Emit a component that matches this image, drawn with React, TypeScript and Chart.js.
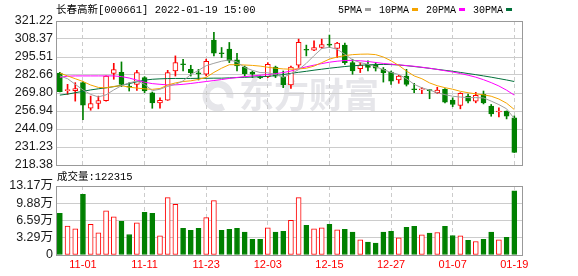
import React, { useEffect, useRef } from 'react';
import { Chart, registerables } from 'chart.js';

Chart.register(...registerables);

// ---------- data ----------
const dates = [
  '10-27', '10-28', '10-29',
  '11-01', '11-02', '11-03', '11-04', '11-05', '11-08', '11-09', '11-10', '11-11', '11-12',
  '11-15', '11-16', '11-17', '11-18', '11-19', '11-22', '11-23', '11-24', '11-25', '11-26',
  '11-29', '11-30', '12-01', '12-02', '12-03', '12-06', '12-07', '12-08', '12-09', '12-10',
  '12-13', '12-14', '12-15', '12-16', '12-17', '12-20', '12-21', '12-22', '12-23', '12-24',
  '12-27', '12-28', '12-29', '12-30', '12-31', '01-04', '01-05', '01-06', '01-07',
  '01-10', '01-11', '01-12', '01-13', '01-14', '01-17', '01-18', '01-19',
];
const tickDates = ['11-01', '11-11', '11-23', '12-03', '12-15', '12-27', '01-07', '01-19'];

const opens = [
  284.1, 271.5, 271.4, 277.2, 258.9, 262.3, 264.3, 283.7, 284.6, 274.6,
  276.0, 280.8, 270.0, 262.8, 264.7, 285.5, 290.6, 286.7, 284.0, 283.2,
  307.6, 298.5, 301.1, 293.4, 288.4, 284.8, 281.2, 281.5, 288.4, 281.2,
  275.5, 289.6, 301.0, 300.4, 302.3, 304.8, 301.6, 304.0, 291.5, 287.2,
  290.3, 289.6, 286.7, 284.8, 279.1, 281.9, 272.7, 272.0, 272.0, 270.0,
  272.4, 264.7, 260.9, 267.6, 264.0, 268.8, 260.4, 256.2, 256.8, 252.1,
];
const highs = [
  284.5, 276.0, 277.2, 278.0, 267.6, 267.6, 282.0, 291.0, 292.0, 277.2,
  286.0, 281.5, 270.5, 266.4, 286.0, 296.3, 293.9, 289.6, 286.7, 294.0,
  313.1, 302.3, 305.9, 298.2, 289.1, 285.5, 282.0, 291.5, 289.0, 285.5,
  289.0, 308.3, 304.0, 307.0, 308.3, 311.2, 306.0, 305.4, 293.9, 291.5,
  292.7, 291.5, 288.0, 285.5, 282.5, 286.7, 276.7, 273.7, 272.2, 273.9,
  273.0, 266.4, 270.0, 269.0, 270.3, 271.2, 261.6, 259.2, 257.0, 253.4,
];
const lows = [
  270.5, 268.8, 264.0, 250.8, 257.5, 258.5, 264.0, 279.6, 274.3, 271.2,
  271.7, 270.0, 258.9, 258.9, 264.5, 281.9, 285.5, 281.9, 279.1, 282.0,
  296.3, 295.1, 291.5, 285.5, 281.9, 280.8, 280.0, 280.8, 280.8, 273.6,
  273.0, 288.0, 296.3, 300.0, 301.6, 302.3, 295.1, 290.3, 283.2, 284.4,
  285.5, 285.5, 277.6, 276.0, 276.7, 274.8, 270.0, 269.4, 265.7, 269.5,
  262.8, 260.0, 258.5, 262.8, 262.8, 262.0, 253.2, 252.8, 251.3, 227.3,
];
const closes = [
  270.7, 272.0, 272.9, 261.1, 262.3, 264.3, 281.9, 286.5, 276.0, 274.0,
  284.4, 271.2, 262.8, 264.5, 284.4, 291.5, 290.0, 284.4, 283.5, 292.5,
  298.2, 297.8, 292.7, 289.1, 283.6, 283.2, 280.6, 290.3, 281.9, 275.7,
  288.4, 305.9, 300.3, 302.3, 304.3, 304.0, 305.4, 291.5, 285.5, 289.8,
  288.0, 287.5, 284.4, 278.3, 281.9, 276.0, 272.1, 272.5, 271.5, 271.9,
  263.3, 261.6, 269.5, 264.0, 268.1, 262.8, 254.9, 256.6, 253.2, 227.3,
];
const volumes = [
  79400, 55100, 50000, 115800, 58400, 42400, 84500, 73000, 64100, 39200,
  61600, 81300, 79400, 36700, 109400, 96700, 50700, 46900, 50700, 71200,
  103700, 46900, 48800, 50700, 43700, 29700, 29700, 52000, 43700, 45000,
  66000, 109400, 56500, 50000, 52000, 58400, 48200, 48800, 43700, 29000,
  24500, 22600, 43700, 45000, 32900, 52600, 54500, 38600, 41700, 43000,
  54500, 37300, 36700, 27800, 25800, 29700, 43700, 29000, 33500, 122315,
];
const ma5 = [
  282, 280, 276, 272, 268.8, 267, 268.5, 272, 275, 277,
  278.4, 276, 271.5, 272.5, 274.5, 276, 278.4, 283, 286, 289.3,
  291, 292.5, 293.4, 292, 288, 286, 284.4, 284.2, 283, 281,
  283.5, 286.5, 291, 296.5, 301.5, 302.5, 301, 297.5, 293.5, 291.5,
  290.3, 288.5, 286.5, 284.5, 283, 280, 276, 273.5, 271.9, 270,
  268.6, 267.5, 266.9, 266.5, 266.5, 266.3, 264, 261.5, 258.5, 251.5,
];
const ma10 = [
  284, 282, 280, 278, 275.5, 273.8, 273.5, 274.5, 275, 274,
  273.3, 272.8, 272.4, 273, 275.5, 277, 278, 278.5, 279.5, 281,
  284.5, 287.5, 290, 290, 289.8, 289.5, 289, 288.2, 287.5, 287,
  286.8, 287, 287.5, 289, 291.5, 294, 295.5, 296.5, 297.2, 297.5,
  297.6, 297.2, 295.5, 292.8, 289.5, 285.5, 282, 280, 277, 275,
  273.6, 272.5, 271, 270, 269.2, 268.5, 267.5, 265.5, 262.5, 258,
];
const ma20 = [
  281, 281.8, 282, 282, 282, 282, 282, 282, 281.5, 280.5,
  279, 277.5, 276.5, 276, 275.6, 275.6, 276, 276.6, 277.3, 278,
  278.7, 279.4, 280.2, 280.9, 281.5, 282, 282.5, 283, 283.6, 284.4,
  285.5, 287.2, 288.5, 289.7, 290.8, 291.8, 292.5, 293, 293.1, 292.8,
  292.3, 291.6, 290.9, 290.4, 289.9, 289.4, 288.9, 288.2, 287.5, 286.6,
  285.7, 284.8, 283.7, 282.5, 281.1, 279.3, 277.2, 274.8, 271.8, 268.3,
];
const ma30 = [
  268.3, 269, 270, 271, 272, 272.8, 273.5, 274.3, 275.3, 276.5,
  277.8, 279, 279.6, 279.9, 280.1, 280.2, 280.2, 280.2, 280.3, 280.3,
  280.4, 280.4, 280.6, 280.8, 281, 281.2, 281.4, 281.7, 282.2, 283,
  283.8, 284.6, 285.3, 286.1, 286.8, 287.5, 288.1, 288.7, 289.2, 289.6,
  289.9, 290.1, 290.2, 290.1, 289.8, 289.3, 288.7, 288.1, 287.4, 286.7,
  286, 285.3, 284.5, 283.7, 282.9, 282, 281.1, 280.1, 279.1, 278,
];

const priceTicks = [218.38, 231.23, 244.09, 256.94, 269.8, 282.66, 295.51, 308.37, 321.22];
const priceTickLabels = ['218.38', '231.23', '244.09', '256.94', '269.80', '282.66', '295.51', '308.37', '321.22'];
const volTicks = [0, 32900, 65900, 98800, 131700];
const volTickLabels = ['0', '3.29万', '6.59万', '9.88万', '13.17万'];

const titleText = '长春高新[000661] 2022-01-19 15:00';
const volumeTitle = '成交量:122315';
const maNames = ['5PMA', '10PMA', '20PMA', '30PMA'];
const watermarkText = '东方财富';

// ---------- styles ----------
const UP = '#ff0000';
const DOWN = '#008000';
const MA_COLORS = ['#a0a0a0', '#f5a400', '#ff00ff', '#00703a'];
const GRID = '#cccccc';
const FRAME = '#999999';
const MONO = "'Liberation Mono', 'Noto Sans CJK SC', monospace";
const SANS = "'Liberation Sans', 'Noto Sans CJK SC', sans-serif";
const W = 578;
const H = 276;
const PLOT_RIGHT_PAD = 56;
const AXIS_W = 56;

const idx = dates.map((_, i) => i);
const candleUp = idx.map((i) => closes[i] >= opens[i]);
const volUp = idx.map((i) => (i === 0 ? closes[0] >= opens[0] : closes[i] >= closes[i - 1]));

function xScale(showLabels: boolean): any {
  return {
    type: 'linear',
    min: -0.5,
    max: 60,
    offset: false,
    afterBuildTicks: (s: any) => {
      s.ticks = tickDates.map((d) => ({ value: dates.indexOf(d) }));
    },
    afterFit: (s: any) => {
      s.height = showLabels ? 21 : 0;
    },
    grid: { color: GRID, lineWidth: 1, drawTicks: false, offset: false },
    border: { display: false, dash: [4, 3] },
    ticks: {
      display: showLabels,
      autoSkip: false,
      maxRotation: 0,
      padding: 3,
      color: UP,
      font: { family: SANS, size: 11 },
      callback: (v: number) => dates[v] ?? '',
    },
  };
}

function yScale(ticks: number[], labels: string[]): any {
  return {
    type: 'linear',
    min: ticks[0],
    max: ticks[ticks.length - 1],
    beginAtZero: false,
    afterBuildTicks: (s: any) => {
      s.ticks = ticks.map((v) => ({ value: v }));
    },
    afterFit: (s: any) => {
      s.width = AXIS_W;
    },
    grid: { color: GRID, lineWidth: 1, drawTicks: false },
    border: { display: false },
    ticks: {
      autoSkip: false,
      padding: 3,
      color: '#1a1a1a',
      font: { family: SANS, size: 12.5 },
      callback: (_v: any, i: number) => labels[i],
    },
  };
}

function drawFrame(chart: any) {
  const { ctx, chartArea } = chart;
  ctx.save();
  ctx.strokeStyle = FRAME;
  ctx.lineWidth = 1;
  ctx.strokeRect(chartArea.left + 0.5, chartArea.top + 0.5, chartArea.right - chartArea.left, chartArea.bottom - chartArea.top);
  ctx.restore();
}

const priceDecor = {
  id: 'priceDecor',
  beforeDraw(chart: any) {
    const { ctx } = chart;
    ctx.save();
    ctx.fillStyle = '#e6e6ea';
    ctx.strokeStyle = '#e6e6ea';
    ctx.lineWidth = 7;
    ctx.beginPath();
    ctx.arc(218, 96, 12, Math.PI * 0.35, Math.PI * 2.05);
    ctx.stroke();
    ctx.font = `bold 35px 'Noto Sans CJK SC', sans-serif`;
    ctx.textBaseline = 'middle';
    ctx.textAlign = 'left';
    ctx.fillText(watermarkText, 239, 95);
    ctx.restore();
  },
  afterDraw(chart: any) {
    const { ctx } = chart;
    drawFrame(chart);
    ctx.save();
    ctx.fillStyle = '#000';
    ctx.textBaseline = 'middle';
    ctx.textAlign = 'left';
    ctx.font = `10.5px ${MONO}`;
    ctx.fillText(titleText, 56, 10);
    ctx.font = `10px ${MONO}`;
    let x = 338;
    maNames.forEach((name, i) => {
      ctx.fillStyle = '#000';
      ctx.fillText(name, x, 10);
      x += ctx.measureText(name).width + 3;
      ctx.fillStyle = MA_COLORS[i];
      ctx.fillRect(x, 8, 6, 3);
      x += 6 + 8;
    });
    ctx.restore();
  },
};

const volDecor = {
  id: 'volDecor',
  afterDraw(chart: any) {
    const { ctx } = chart;
    drawFrame(chart);
    ctx.save();
    ctx.fillStyle = '#000';
    ctx.textBaseline = 'middle';
    ctx.textAlign = 'left';
    ctx.font = `10.5px ${MONO}`;
    ctx.fillText(volumeTitle, 57, 177);
    ctx.restore();
  },
};

export default function App() {
  const priceRef = useRef<HTMLCanvasElement | null>(null);
  const volRef = useRef<HTMLCanvasElement | null>(null);

  useEffect(() => {
    const maSets = [ma5, ma10, ma20, ma30].map((arr, k) => ({
      type: 'line',
      label: maNames[k],
      data: arr.map((v, i) => ({ x: i, y: v })),
      borderColor: MA_COLORS[k],
      borderWidth: 1,
      pointRadius: 0,
      tension: 0,
      fill: false,
      order: 0,
    }));

    const priceChart = new Chart(priceRef.current as HTMLCanvasElement, {
      type: 'bar',
      data: {
        datasets: [
          ...maSets,
          {
            type: 'bar',
            label: 'body',
            data: idx.map((i) => ({ x: i, y: [opens[i], closes[i]] })),
            backgroundColor: idx.map((i) => (candleUp[i] ? '#ffffff' : DOWN)),
            borderColor: idx.map((i) => (candleUp[i] ? UP : DOWN)),
            borderWidth: 1,
            borderSkipped: false,
            barThickness: 5,
            minBarLength: 1,
            grouped: false,
            order: 1,
          },
          {
            type: 'bar',
            label: 'wick',
            data: idx.map((i) => ({ x: i, y: [lows[i], highs[i]] })),
            backgroundColor: idx.map((i) => (candleUp[i] ? UP : DOWN)),
            borderWidth: 0,
            barThickness: 1,
            grouped: false,
            order: 2,
          },
        ] as any,
      },
      options: {
        responsive: false,
        animation: false,
        events: [],
        layout: { padding: { top: 21, bottom: H - 165, left: 0, right: PLOT_RIGHT_PAD } },
        plugins: { legend: { display: false }, tooltip: { enabled: false } },
        scales: {
          x: xScale(false),
          y: yScale(priceTicks, priceTickLabels),
        } as any,
      },
      plugins: [priceDecor],
    } as any);

    const volChart = new Chart(volRef.current as HTMLCanvasElement, {
      type: 'bar',
      data: {
        datasets: [
          {
            label: 'volume',
            data: idx.map((i) => ({ x: i, y: volumes[i] })),
            backgroundColor: idx.map((i) => (volUp[i] ? '#ffffff' : DOWN)),
            borderColor: idx.map((i) => (volUp[i] ? UP : DOWN)),
            borderWidth: 1,
            borderSkipped: false,
            barThickness: 5,
            grouped: false,
          },
        ] as any,
      },
      options: {
        responsive: false,
        animation: false,
        events: [],
        layout: { padding: { top: 186, bottom: 0, left: 0, right: PLOT_RIGHT_PAD } },
        plugins: { legend: { display: false }, tooltip: { enabled: false } },
        scales: {
          x: xScale(true),
          y: yScale(volTicks, volTickLabels),
        } as any,
      },
      plugins: [volDecor],
    } as any);

    return () => {
      priceChart.destroy();
      volChart.destroy();
    };
  }, []);

  const canvasStyle: React.CSSProperties = { position: 'absolute', left: 0, top: 0, width: W, height: H };
  return (
    <div style={{ position: 'fixed', left: 0, top: 0, width: W, height: H, background: '#ffffff' }}>
      <canvas ref={priceRef} width={W} height={H} style={canvasStyle} />
      <canvas ref={volRef} width={W} height={H} style={canvasStyle} />
    </div>
  );
}
